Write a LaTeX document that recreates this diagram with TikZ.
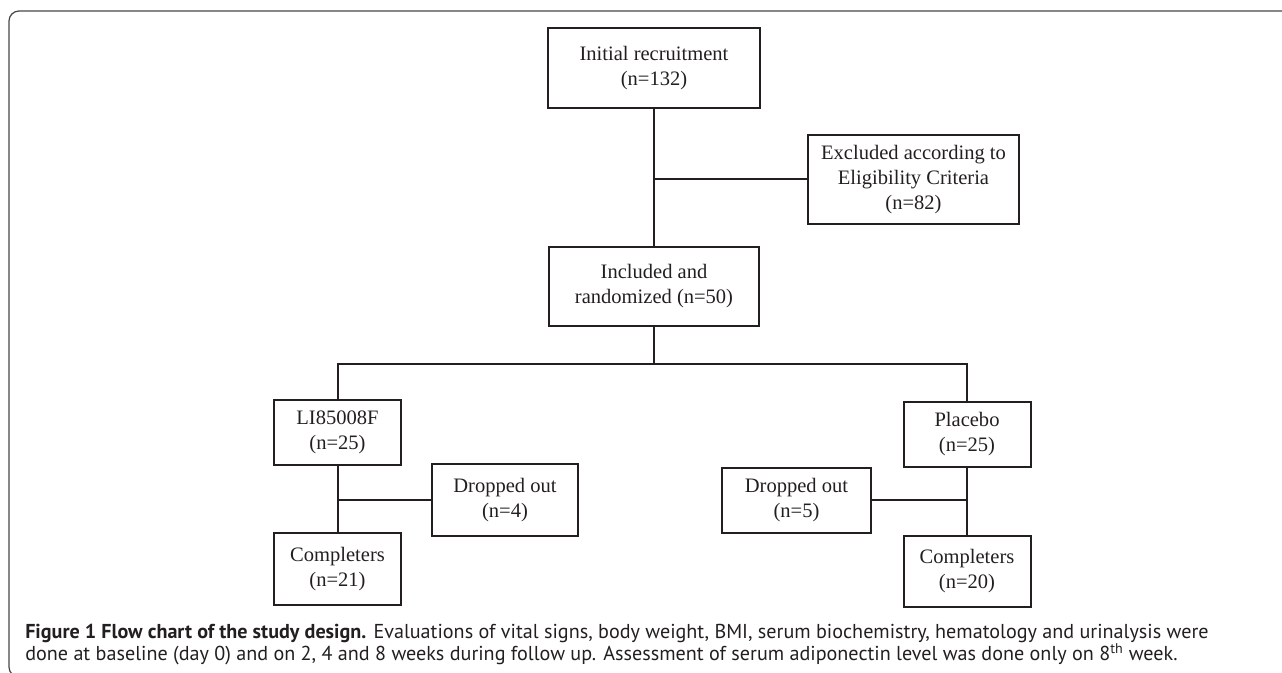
\documentclass[tikz,border=0pt]{standalone}
\usepackage{fontspec}
\setmainfont{Liberation Serif}
\newfontfamily\captionfont{PT Sans}
\usepackage{xcolor}
\usepackage{tikz}
\usetikzlibrary{positioning, calc}
\definecolor{inkgray}{RGB}{35,31,32}
\definecolor{framegray}{RGB}{70,70,70}

\begin{document}
\begin{tikzpicture}[x=0.75pt, y=-0.75pt,
    box/.style={draw=inkgray, line width=1.5pt, text=inkgray, align=center, inner sep=0pt,
        font=\fontsize{15.4}{18.75}\selectfont},
    link/.style={draw=inkgray, line width=1.5pt},
    capline/.style={anchor=base west, inner sep=0pt, text=inkgray,
        font=\captionfont\fontsize{15.1}{18}\selectfont}]
    \useasboundingbox (0,0) rectangle (1282,673);

    % Outer frame, open to the right
    \draw[framegray, line width=0.9pt, rounded corners=7.5pt] (1290,11) -- (9,11) -- (9,677) -- (40,677);

    % Screening
    \node[box, minimum width=159pt, minimum height=60pt] (init) at (654,68) {Initial recruitment\\(n=132)};
    \node[box, minimum width=158.25pt, minimum height=66.75pt] (excl) at (913.5,179.5) {Excluded according to\\Eligibility Criteria\\(n=82)};
    \node[box, minimum width=157.5pt, minimum height=59.25pt] (incl) at (654,286.5) {Included and\\randomized (n=50)};

    % Two arms
    \node[box, minimum width=95.25pt, minimum height=48.75pt] (drug) at (337.5,432.5) {LI85008F\\(n=25)};
    \node[box, minimum width=109.5pt, minimum height=54pt] (dropA) at (505,500) {Dropped out\\(n=4)};
    \node[box, minimum width=95.25pt, minimum height=54pt] (compA) at (337.5,569) {Completers\\(n=21)};

    \node[box, minimum width=95.25pt, minimum height=48.75pt] (plac) at (967,434.5) {Placebo\\(n=25)};
    \node[box, minimum width=111.75pt, minimum height=48.75pt] (dropB) at (796.5,500.5) {Dropped out\\(n=5)};
    \node[box, minimum width=95.25pt, minimum height=53.25pt] (compB) at (967,571.5) {Completers\\(n=20)};

    % Connectors
    \coordinate (split) at (654,364);
    \draw[link] (init) -- (incl);
    \draw[link] (excl.west) -- (excl.west -| init.south);
    \draw[link] (incl) -- (split);
    \draw[link] (drug.north) |- (split) -| (plac.north);
    \draw[link] (drug) -- (compA);
    \draw[link] (dropA.west) -- (dropA.west -| drug.south);
    \draw[link] (plac) -- (compB);
    \draw[link] (dropB.east) -- (dropB.east -| plac.south);

    % Caption
    \node[capline] (cap1) at (25,638) {\textbf{Figure 1 Flow chart of the study design.} Evaluations of vital signs, body weight, BMI, serum biochemistry, hematology and urinalysis were};
    \node[capline] (cap2) at (25,660) {done at baseline (day 0) and on 2, 4 and 8 weeks during follow up. Assessment of serum adiponectin level was done only on 8\textsuperscript{th} week.};
\end{tikzpicture}
\end{document}
